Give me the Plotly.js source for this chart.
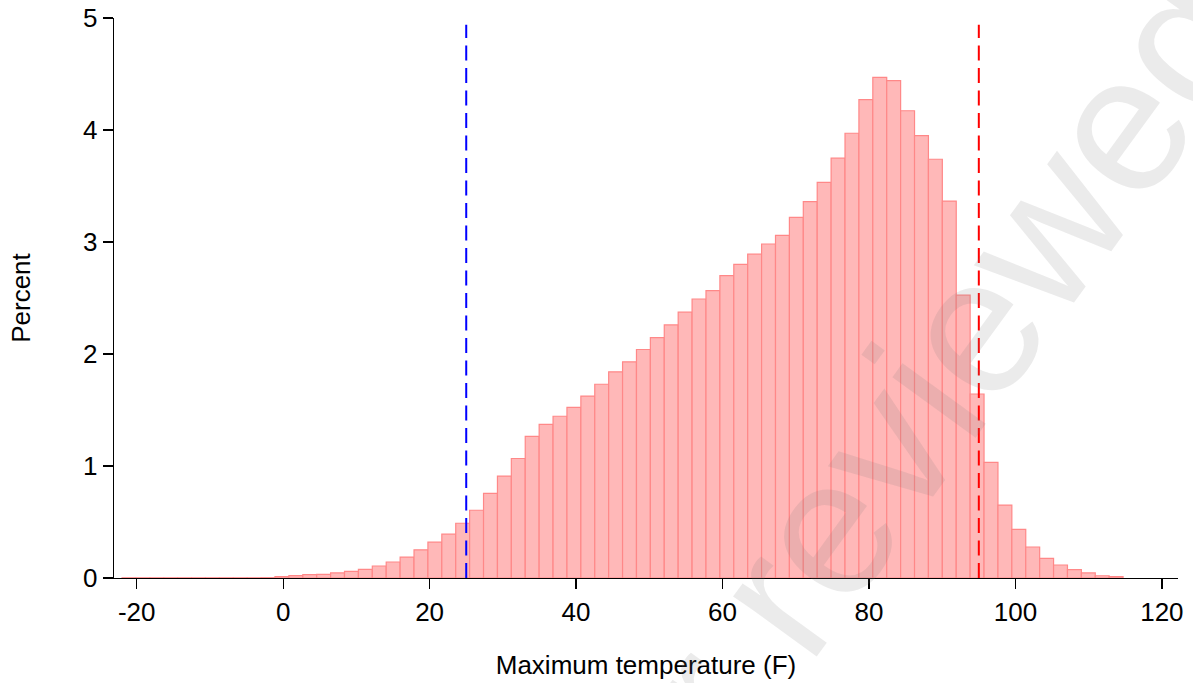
<!DOCTYPE html>
<html>
<head>
<meta charset="utf-8">
<script src="https://cdn.plot.ly/plotly-3.0.1.min.js"></script>
<style>html,body{margin:0;padding:0;background:#fff;}#chart{width:1193px;height:683px;}</style>
</head>
<body>
<div id="chart"></div>
<script>
// Histogram bins (degrees F)
const binStart = -22.0;
const binWidth = 1.8986;
// Percent per bin (72 bins)
const percent = [
  0.002, 0.002, 0.002, 0.002, 0.002, 0.002, 0.002, 0.002, 0.002, 0.002, 0.003,
  0.012, 0.021, 0.030, 0.033, 0.045, 0.060, 0.077, 0.107, 0.143, 0.187,
  0.252, 0.320, 0.391, 0.489, 0.605, 0.755, 0.910, 1.067, 1.264, 1.371,
  1.444, 1.524, 1.624, 1.730, 1.841, 1.930, 2.040, 2.147, 2.260, 2.373,
  2.491, 2.566, 2.700, 2.800, 2.891, 2.982, 3.060, 3.220, 3.361, 3.533,
  3.748, 3.971, 4.271, 4.470, 4.440, 4.172, 3.949, 3.739, 3.365, 2.525,
  1.643, 1.032, 0.651, 0.434, 0.277, 0.175, 0.116, 0.074, 0.045, 0.020,
  0.012
];
// Reference thresholds (degrees F)
const lowThreshold = 25;
const highThreshold = 95;
const xTicks = [-20, 0, 20, 40, 60, 80, 100, 120];
const yTicks = [0, 1, 2, 3, 4, 5];
const xTitle = 'Maximum temperature (F)';
const yTitle = 'Percent';
const watermark = 'Preprint not peer reviewed';

const binCenters = percent.map((_, i) => binStart + (i + 0.5) * binWidth);

const font = '"Liberation Sans", Arial, Helvetica, sans-serif';

const trace = {
  type: 'bar',
  x: binCenters,
  y: percent,
  width: binWidth,
  marker: {color: 'rgb(255,184,184)', line: {color: 'rgb(255,136,136)', width: 1.2}},
  hoverinfo: 'x+y'
};

const dashLine = (x, color) => ({
  type: 'line', xref: 'x', yref: 'y', x0: x, x1: x, y0: 0, y1: 4.94,
  line: {color: color, width: 2, dash: '15px,7.5px'}, layer: 'above'
});

const layout = {
  width: 1193, height: 683,
  margin: {l: 114, r: 15, t: 18, b: 105},
  paper_bgcolor: '#fff', plot_bgcolor: '#fff',
  showlegend: false,
  bargap: 0,
  font: {family: font, size: 26, color: '#000'},
  xaxis: {
    range: [-23.1, 122.2], tickvals: xTicks, ticktext: xTicks.map(String),
    showgrid: false, zeroline: false, showline: true, linecolor: '#000', linewidth: 1.3,
    ticks: 'outside', ticklen: 10, tickwidth: 1.3, tickcolor: '#000',
    tickfont: {family: font, size: 26, color: '#000'},
    title: {text: xTitle, font: {family: font, size: 26, color: '#000'}, standoff: 30},
    automargin: false
  },
  yaxis: {
    range: [0, 5], tickvals: yTicks, ticktext: yTicks.map(String),
    showgrid: false, zeroline: false, showline: true, linecolor: '#000', linewidth: 1.3,
    ticks: 'outside', ticklen: 10, tickwidth: 1.3, tickcolor: '#000',
    tickfont: {family: font, size: 26, color: '#000'},
    title: {text: yTitle, font: {family: font, size: 26, color: '#000'}, standoff: 45},
    automargin: false
  },
  shapes: [dashLine(lowThreshold, '#0000ff'), dashLine(highThreshold, '#ff0000')],
  annotations: [{
    text: watermark, xref: 'paper', yref: 'paper', x: 0.401, y: -0.613,
    xanchor: 'center', yanchor: 'middle', showarrow: false, textangle: -54,
    font: {family: font, size: 195, color: 'rgba(120,120,120,0.15)'}
  }]
};

Plotly.newPlot('chart', [trace], layout, {displayModeBar: false, staticPlot: true});
</script>
</body>
</html>
